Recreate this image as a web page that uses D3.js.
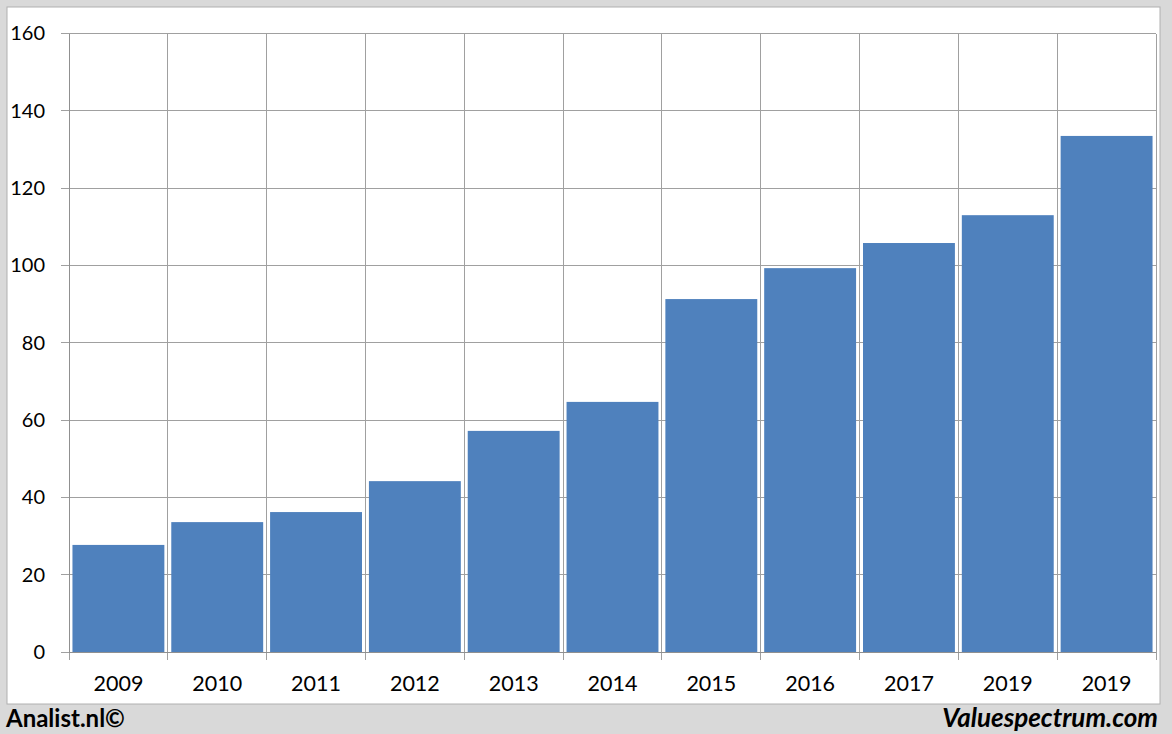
<!DOCTYPE html>
<html><head><meta charset="utf-8">
<script src="https://cdn.jsdelivr.net/npm/d3@7"></script>
<style>body{margin:0;background:#d9d9d9}svg{display:block}</style>
</head><body>
<script>
const categories = ["2009","2010","2011","2012","2013","2014","2015","2016","2017","2019","2019"];
const values = [27.7, 33.6, 36.2, 44.2, 57.2, 64.7, 91.3, 99.3, 105.8, 113.0, 133.5];
const yTicks = [0,20,40,60,80,100,120,140,160];

const W = 1172, H = 734;
const svg = d3.select("body").append("svg").attr("width", W).attr("height", H);
svg.append("rect").attr("x",0).attr("y",0).attr("width",W).attr("height",H).attr("fill","#d9d9d9");
svg.append("rect").attr("x",7).attr("y",7).attr("width",1153).attr("height",697).attr("fill","#fff")
  .attr("stroke","#b0b0b0").attr("stroke-width",1);

const m = {left:69, right:1156, top:33.5, bottom:652};
const idx = categories.map((d,i)=>i);
const x = d3.scaleBand().domain(idx).range([m.left, m.right]).paddingInner(0.07).paddingOuter(0.035);
const xb = d3.scaleBand().domain(idx).range([m.left, m.right]);
const y = d3.scaleLinear().domain([0,160]).range([m.bottom, m.top]);

const font = "Lato, 'Open Sans', sans-serif";
// horizontal grid
svg.append("g").selectAll("line").data(yTicks).join("line")
  .attr("x1", m.left - 8).attr("x2", m.right).attr("y1", d=>y(d)).attr("y2", d=>y(d))
  .attr("stroke","#a0a0a0").attr("stroke-width",1).attr("shape-rendering","crispEdges");
// vertical grid
const vx = idx.map(i=>xb(i)).concat([m.right]);
svg.append("g").selectAll("line").data(vx).join("line")
  .attr("x1", d=>d).attr("x2", d=>d).attr("y1", m.top).attr("y2", m.bottom + 8)
  .attr("stroke","#a0a0a0").attr("stroke-width",1).attr("shape-rendering","crispEdges");

// bars
svg.append("g").selectAll("rect").data(values).join("rect")
  .attr("x",(d,i)=>x(i)).attr("width",x.bandwidth())
  .attr("y",d=>y(d)).attr("height",d=>y(0)-y(d))
  .attr("fill","#4f81bd");

// axes
const yAxis = d3.axisLeft(y).tickValues(yTicks).tickSize(0).tickPadding(24);
const gy = svg.append("g").attr("transform",`translate(${m.left},0)`).call(yAxis);
gy.select(".domain").remove();
gy.selectAll("text").attr("font-family",font).attr("font-size",20).attr("fill","#000");

const xAxis = d3.axisBottom(xb).tickSize(0).tickPadding(24).tickFormat(i=>categories[i]);
const gx = svg.append("g").attr("transform",`translate(0,${m.bottom})`).call(xAxis);
gx.select(".domain").remove();
gx.selectAll("text").attr("font-family",font).attr("font-size",21.5).attr("fill","#000");

// axis lines
svg.append("line").attr("x1",m.left).attr("x2",m.left).attr("y1",m.top).attr("y2",m.bottom)
  .attr("stroke","#909090").attr("shape-rendering","crispEdges");
svg.append("line").attr("x1",m.left).attr("x2",m.right).attr("y1",m.bottom).attr("y2",m.bottom)
  .attr("stroke","#909090").attr("shape-rendering","crispEdges");

// footer
svg.append("text").attr("x",6).attr("y",727).attr("font-family",font).attr("font-weight","bold")
  .attr("font-size",24).attr("fill","#000").text("Analist.nl©");
svg.append("text").attr("x",1158).attr("y",727).attr("text-anchor","end").attr("font-family",font)
  .attr("font-weight","bold").attr("font-style","italic").attr("font-size",26).attr("fill","#000").text("Valuespectrum.com");
</script>
</body></html>
